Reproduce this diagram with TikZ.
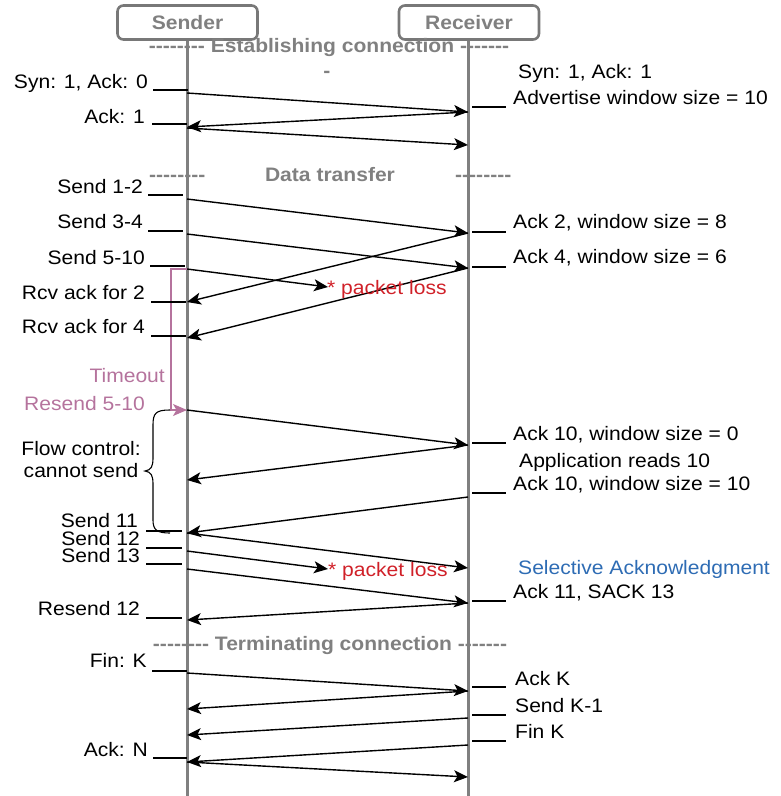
\documentclass[tikz,border=0pt]{standalone}
\usepackage{fontspec}
\setmainfont{Liberation Sans}[FakeStretch=1.08]
\usetikzlibrary{arrows.meta}
\definecolor{framegray}{RGB}{120,120,120}
\definecolor{headgray}{RGB}{128,128,128}
\definecolor{lossred}{RGB}{208,32,40}
\definecolor{sackblue}{RGB}{46,108,180}
\definecolor{timeoutpink}{RGB}{181,115,157}
% runs of plain hyphens, kept apart so they do not merge into dashes
\newcommand{\hyphenrun}[1]{\foreach \k in {1,...,#1}{-{}}}
\begin{document}
\begin{tikzpicture}[x=1pt,y=-1pt,
  font=\fontsize{19.5}{22}\selectfont,
  actor/.style={draw=framegray, line width=2.6pt, rounded corners=6pt,
    minimum width=140pt, minimum height=34pt, text=headgray, font=\bfseries\fontsize{19.5}{22}\selectfont},
  lifeline/.style={draw=headgray, line width=3pt},
  msg/.style={draw=black, line width=1.4pt, -{Stealth[length=14pt,width=12pt,inset=3.5pt]}},
  tickline/.style={draw=black, line width=1.3pt},
  lbl/.style={inner sep=0pt, text height=13.5pt, text depth=0pt},
  lbleft/.style={lbl, anchor=east},
  lbright/.style={lbl, anchor=west},
  phase/.style={inner sep=0pt, text=headgray, text height=13.5pt, text depth=0pt,
    font=\bfseries\fontsize{19.5}{22}\selectfont},
  lossnote/.style={lbright, text=lossred},
]
\useasboundingbox (0,0) rectangle (781,796);

% participants and lifelines
\node[actor] (sender) at (187.5,22.5) {Sender};
\node[actor] (receiver) at (469,22.5) {Receiver};
\coordinate (sbot) at (187,796);
\coordinate (rbot) at (468,796);
\draw[lifeline] (sender.south -| sbot) -- (sbot);
\draw[lifeline] (receiver.south -| rbot) -- (rbot);

% phase headings
\node[phase] (hconn) at (329,46) {\hyphenrun{8} Establishing connection \hyphenrun{7}};
\node[phase] (hstray) at (327,71) {-};
\node[phase, anchor=west] (hdataL) at (149,175) {\hyphenrun{8}};
\node[phase] (hdata) at (330,175) {Data transfer};
\node[phase, anchor=west] (hdataR) at (455,175) {\hyphenrun{8}};
\node[phase] (hterm) at (330,644) {\hyphenrun{8} Terminating connection \hyphenrun{7}};

% points on the sender lifeline
\foreach \n/\y in {s1/93,s2/127,s3/128,s4/199,s5/234,s6/269,s7/302,s8/338,
  s9/410,s10/480,s11/533,s12/551,s13/569,s14/620,s15/673,s16/709,s17/735,s18/762}
  \coordinate (\n) at (187,\y);
% points on the receiver lifeline
\foreach \n/\y in {r1/112,r2/145,r3/233,r4/268,r5/445,r6/497,r7/568,r8/603,
  r9/691,r10/718,r11/745,r12/777}
  \coordinate (\n) at (468,\y);
\coordinate (loss1) at (328,287);
\coordinate (loss2) at (328,569);

% connection set-up
\draw[msg] (s1) -- (r1);
\draw[msg] (r1) -- (s2);
\draw[msg] (s3) -- (r2);

% data transfer
\draw[msg] (s4) -- (r3);
\draw[msg] (s5) -- (r4);
\draw[msg] (s6) -- (loss1);
\draw[msg] (r3) -- (s7);
\draw[msg] (r4) -- (s8);

% retransmission timer
\coordinate (tA) at (171,269);
\coordinate (tB) at (171,410);
\draw[draw=timeoutpink, line width=1.1pt, -{Stealth[length=14pt,width=12pt,inset=3.5pt,fill=timeoutpink]}]
  (s6) -- (tA) -- (tB) -- (s9);

% flow control
\draw[msg] (s9) -- (r5);
\draw[msg] (r5) -- (s10);
\draw[msg] (r6) -- (s11);
\draw[black, line width=1.1pt] (170,410) .. controls (156,410) and (153,413) .. (153,425)
  -- (153,458) .. controls (153,467) and (151,470) .. (145,471)
  .. controls (151,472) and (153,475) .. (153,484)
  -- (153,520) .. controls (153,530) and (157,533) .. (170,533);

% selective acknowledgment
\draw[msg] (s11) -- (r7);
\draw[msg] (s12) -- (loss2);
\draw[msg] (s13) -- (r8);
\draw[msg] (r8) -- (s14);

% connection teardown
\draw[msg] (s15) -- (r9);
\draw[msg] (r9) -- (s16);
\draw[msg] (r10) -- (s17);
\draw[msg] (r11) -- (s18);
\draw[msg] (s18) -- (r12);

% sender-side labels
\node[lbleft] (l1) at (148,82) {Syn: 1, Ack: 0};
\node[lbleft] (l2) at (145,117) {Ack: 1};
\node[lbleft] (l3) at (143,187) {Send 1-2};
\node[lbleft] (l4) at (143,222) {Send 3-4};
\node[lbleft] (l5) at (145,258) {Send 5-10};
\node[lbleft] (l6) at (145,293) {Rcv ack for 2};
\node[lbleft] (l7) at (145,327) {Rcv ack for 4};
\node[lbleft, text=timeoutpink] (l8) at (165,376) {Timeout};
\node[lbleft, text=timeoutpink] (l9) at (145,404) {Resend 5-10};
\node[lbleft, align=center] (l10) at (141,471) {Flow control:\\cannot send};
\node[lbleft] (l11) at (138,521) {Send 11};
\node[lbleft] (l12) at (140,539) {Send 12};
\node[lbleft] (l13) at (140,556) {Send 13};
\node[lbleft] (l14) at (140,609) {Resend 12};
\node[lbleft] (l15) at (147,661) {Fin: K};
\node[lbleft] (l16) at (148,750) {Ack: N};

% sender-side ticks
\foreach \a/\b/\y in {153/188/90,152/187/124,148/183/195,148/183/231,150/185/266,
  151/186/302,151/186/336,146/182/531,146/182/548,146/182/564,146/182/618,
  152/187/671,153/187/758}
  \draw[tickline] (\a,\y) -- (\b,\y);

% receiver-side labels
\node[lbright] (m1) at (518,72) {Syn: 1, Ack: 1};
\node[lbright] (m2) at (513,98) {Advertise window size = 10};
\node[lbright] (m3) at (513,222) {Ack 2, window size = 8};
\node[lbright] (m4) at (513,257) {Ack 4, window size = 6};
\node[lbright] (m5) at (513,434) {Ack 10, window size = 0};
\node[lbright] (m6) at (519,461) {Application reads 10};
\node[lbright] (m7) at (513,484) {Ack 10, window size = 10};
\node[lbright, text=sackblue] (m8) at (518,568) {Selective Acknowledgment};
\node[lbright] (m9) at (513,592) {Ack 11, SACK 13};
\node[lbright] (m10) at (515,679) {Ack K};
\node[lbright] (m11) at (515,706) {Send K-1};
\node[lbright] (m12) at (515,732) {Fin K};

% receiver-side ticks
\foreach \y in {107,232,267,443,493,601,687,715,741}
  \draw[tickline] (472,\y) -- (506,\y);

% lost packets
\node[lossnote] (p1) at (327,288) {* packet loss};
\node[lossnote] (p2) at (328,570) {* packet loss};
\end{tikzpicture}
\end{document}
